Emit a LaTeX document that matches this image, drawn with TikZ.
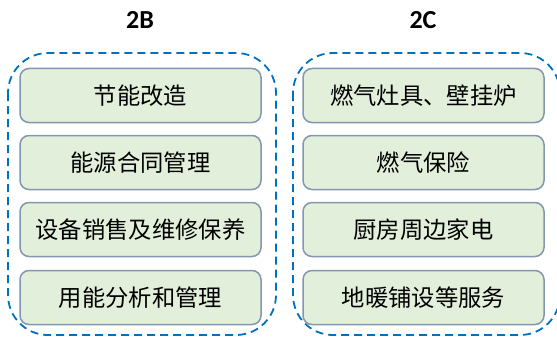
\documentclass[tikz,border=0pt]{standalone}
\usepackage{fontspec}
\setmainfont{Carlito}
\newfontfamily\cjk{Noto Sans CJK SC}
\definecolor{boxfill}{HTML}{E2EFDA}
\definecolor{boxline}{HTML}{8497B0}
\definecolor{groupline}{HTML}{0070C0}
\begin{document}
\begin{tikzpicture}[x=1pt,y=-1pt,
  itembox/.style={draw=boxline,fill=boxfill,line width=1.5pt,rounded corners=9pt,
    minimum width=241pt,minimum height=54pt,inner sep=0pt,
    font=\cjk\fontsize{23.3}{26}\selectfont},
  groupbox/.style={draw=groupline,line width=1.8pt,dash pattern=on 8pt off 5pt,rounded corners=40pt},
  title/.style={font=\bfseries\fontsize{26}{30}\selectfont}]
\useasboundingbox (0,0) rectangle (557,337);
\node[title] (tB) at (140,20) {2B};
\node[title] (tC) at (423,20) {2C};
\draw[groupbox] (8,53) rectangle (276,335);
\draw[groupbox] (293,53) rectangle (560,335);
\node[itembox] (b1) at (140.5,95.5) {节能改造};
\node[itembox] (b2) at (140.5,162.5) {能源合同管理};
\node[itembox] (b3) at (140.5,229.5) {设备销售及维修保养};
\node[itembox] (b4) at (140.5,297.5) {用能分析和管理};
\node[itembox] (c1) at (423.5,95.5) {燃气灶具、壁挂炉};
\node[itembox] (c2) at (423.5,162.5) {燃气保险};
\node[itembox] (c3) at (423.5,229.5) {厨房周边家电};
\node[itembox] (c4) at (423.5,297.5) {地暖铺设等服务};
\end{tikzpicture}
\end{document}
